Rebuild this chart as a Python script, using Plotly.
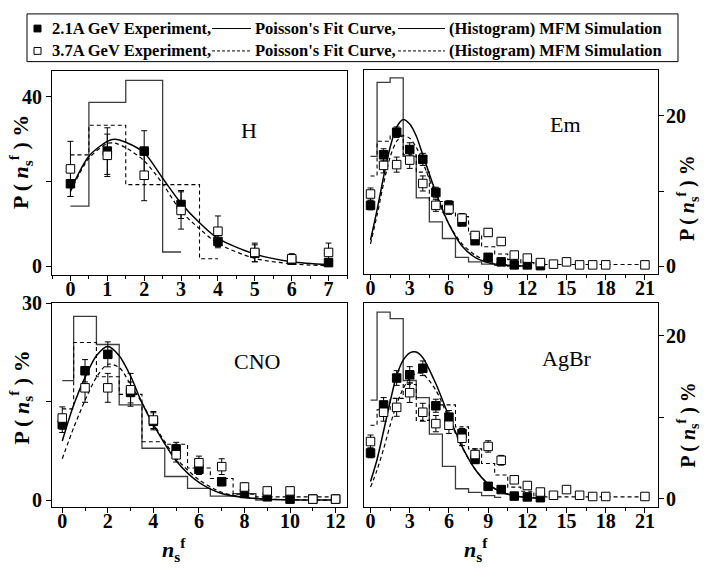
import plotly.graph_objects as go

W, H = 707, 573
FONT = "Liberation Serif"

# ---------------- DATA ----------------
# H panel
H_x = [0, 1, 2, 3, 4, 5, 6, 7]
H_exp21 = [19.5, 27.2, 27.2, 14.6, 5.9, 3.1, 1.5, 0.9]
H_err21 = [3.0, 5.5, 4.8, 3.3, 1.5, 2.0, 1.0, 0.5]
H_exp37 = [23.0, 26.2, 21.5, 13.2, 8.3, 3.3, 1.8, 3.3]
H_err37 = [6.5, 5.0, 6.0, 4.4, 3.6, 2.2, 1.2, 2.2]
H_hist21_x = [0, 1, 2, 3]
H_hist21 = [14.2, 38.7, 43.9, 3.4]
H_hist37_x = [0, 1, 2, 3, 4]
H_hist37 = [26.3, 33.3, 19.3, 19.3, 1.8]
H_fit_x = [0, 0.5, 1, 1.2, 1.5, 2, 2.5, 3, 3.5, 4, 5, 6, 7]
H_fit21 = [18.0, 26.0, 29.5, 30.0, 29.3, 26.8, 20.8, 14.9, 10.3, 6.6, 2.9, 1.1, 0.4]
H_fit37 = [17.6, 25.5, 29.0, 29.1, 28.0, 24.9, 19.5, 13.0, 8.9, 5.4, 1.9, 0.6, 0.15]

# Em panel
Em_x21 = [0, 1, 2, 3, 4, 5, 6, 7, 8, 9, 10, 11, 12, 13]
Em_exp21 = [8.1, 14.8, 17.8, 15.5, 14.2, 9.8, 8.1, 5.9, 3.4, 1.2, 0.6, 0.2, 0.2, 0.1]
Em_err21 = [0.6, 0.8, 0.7, 0.9, 0.8, 0.7, 0.6, 0.5, 0.4, 0.3, 0.3, 0.2, 0.2, 0.1]
Em_x37 = [0, 1, 2, 3, 4, 5, 6, 7, 8, 9, 10, 11, 12, 13, 14, 15, 16, 17, 18, 21]
Em_exp37 = [9.6, 13.4, 13.5, 14.1, 11.0, 8.1, 7.6, 6.4, 4.1, 4.5, 3.3, 1.5, 1.1, 0.5, 0.3, 0.6, 0.2, 0.2, 0.2, 0.2]
Em_err37 = [0.8, 1.0, 1.0, 1.1, 1.0, 0.8, 0.7, 0.6, 0.5, 0.5, 0.5, 0.3, 0.3, 0.2, 0.2, 0.3, 0.2, 0.2, 0.2, 0.2]
Em_hist21_x = [0, 1, 2, 3, 4, 5, 6, 7, 8, 9, 10, 11]
Em_hist21 = [14.6, 24.4, 25.0, 14.6, 9.1, 5.9, 3.7, 1.2, 0.6, 0.3, 0.15, 0.05]
Em_hist37_x = [0, 1, 2, 3, 4, 5, 6, 7, 8, 9, 10, 11, 12, 13, 14, 15, 16, 17, 18, 19, 20, 21]
Em_hist37 = [12.0, 16.6, 17.4, 14.8, 12.5, 8.6, 7.2, 6.6, 4.3, 2.6, 1.65, 0.9, 0.5,
             0.25, 0.25, 0.25, 0.25, 0.25, 0.25, 0.25, 0.25, 0.25]
Em_fit_x = [0, 0.5, 1, 1.5, 2, 2.5, 3, 3.5, 4, 5, 6, 7, 8, 9, 10, 11, 12]
Em_fit21 = [3.5, 7.5, 11.9, 15.8, 18.5, 19.5, 18.9, 17.3, 14.8, 9.8, 5.6, 2.7, 1.2, 0.5, 0.2, 0.1, 0.05]
Em_fit37 = [3.0, 6.8, 11.0, 14.5, 16.6, 17.3, 17.0, 15.8, 13.8, 9.4, 5.6, 3.0, 1.5, 0.7, 0.3, 0.1, 0.05]

# CNO panel
C_x = [0, 1, 2, 3, 4, 5, 6, 7, 8, 9, 10, 11, 12]
C_exp21 = [11.5, 19.7, 22.2, 16.4, 12.0, 7.8, 4.7, 2.8, 1.0, 0.5, 0.15, 0.15, 0.15]
C_err21 = [1.2, 1.7, 1.9, 1.6, 1.3, 1.0, 0.8, 0.6, 0.4, 0.3, 0.2, 0.2, 0.2]
C_exp37 = [12.5, 17.1, 17.1, 16.8, 12.2, 6.9, 5.7, 5.1, 2.0, 1.4, 1.4, 0.15, 0.15]
C_err37 = [1.7, 2.2, 2.2, 2.5, 1.3, 1.1, 1.0, 1.2, 0.6, 0.5, 0.5, 0.2, 0.2]
C_hist21_x = [0, 1, 2, 3, 4, 5, 6, 7, 8, 9]
C_hist21 = [18.2, 28.0, 23.7, 14.5, 7.9, 3.6, 1.8, 0.6, 1.0, 0.0]
C_hist37_x = [0, 1, 2, 3, 4, 5, 6, 7, 8, 9, 10, 11, 12]
C_hist37 = [13.9, 24.0, 18.8, 16.1, 8.9, 8.5, 4.9, 3.3, 0.9, 0.5, 0.5, 0.5, 0.5]
C_fit_x = [0, 0.5, 1, 1.5, 2, 2.5, 3, 3.5, 4, 5, 6, 7, 8, 9, 10, 11, 12]
C_fit21 = [9.0, 14.5, 18.7, 22.0, 23.4, 22.0, 18.9, 14.8, 11.5, 6.0, 2.7, 1.0, 0.4, 0.15, 0.05, 0.02, 0.0]
C_fit37 = [6.3, 11.0, 15.2, 18.7, 20.7, 20.2, 17.6, 14.8, 11.7, 6.4, 3.1, 1.2, 0.4, 0.15, 0.05, 0.02, 0.0]

# AgBr panel
A_x21 = [0, 1, 2, 3, 4, 5, 6, 7, 8, 9, 10, 11, 12, 13]
A_exp21 = [5.6, 11.5, 14.8, 15.2, 16.0, 11.4, 10.0, 8.0, 4.8, 1.5, 1.1, 0.3, 0.2, 0.1]
A_err21 = [0.6, 0.9, 0.9, 1.0, 0.9, 0.8, 0.8, 0.6, 0.5, 0.3, 0.3, 0.2, 0.1, 0.1]
A_x37 = [0, 1, 2, 3, 4, 5, 6, 7, 8, 9, 10, 11, 12, 13, 14, 15, 16, 17, 18, 21]
A_exp37 = [7.0, 10.6, 11.2, 13.0, 10.6, 9.2, 9.0, 7.4, 5.4, 6.4, 4.7, 2.3, 1.6, 0.8, 0.4, 1.1, 0.4, 0.25, 0.25, 0.25]
A_err37 = [0.8, 1.1, 1.1, 1.2, 1.1, 1.0, 1.0, 0.9, 0.7, 0.7, 0.6, 0.4, 0.3, 0.3, 0.2, 0.3, 0.2, 0.2, 0.2, 0.2]
A_hist21_x = [0, 1, 2, 3, 4, 5, 6, 7, 8, 9, 10]
A_hist21 = [12.1, 22.9, 22.1, 14.5, 12.4, 7.9, 3.95, 1.2, 0.75, 0.35, 0.15]
A_hist37_x = [0, 1, 2, 3, 4, 5, 6, 7, 8, 9, 10, 11, 12, 13, 14, 15, 16, 17, 18, 19, 20, 21]
A_hist37 = [9.0, 10.9, 12.3, 14.0, 9.6, 11.5, 11.5, 8.8, 6.1, 4.3, 2.9, 1.4, 0.9,
            0.2, 0.2, 0.2, 0.2, 0.2, 0.2, 0.2, 0.2, 0.2]
A_fit_x = [0, 0.5, 1, 1.5, 2, 2.5, 3, 3.5, 4, 5, 6, 7, 8, 9, 10, 11, 12, 13]
A_fit21 = [2.1, 4.8, 8.3, 11.9, 15.1, 17.0, 17.9, 18.0, 17.3, 14.1, 10.1, 6.4, 3.6, 1.8, 0.8, 0.35, 0.12, 0.05]
A_fit37 = [1.4, 3.5, 6.1, 9.0, 11.6, 13.5, 14.8, 15.4, 15.3, 13.3, 9.8, 6.3, 3.6, 1.8, 0.8, 0.35, 0.12, 0.05]

panel_names = ["H", "Em", "CNO", "AgBr"]

# ---------------- LAYOUT HELPERS ----------------
def px_x(p):
    return p / W

def px_y(p):
    return 1 - p / H

panels = [
    dict(name=panel_names[0], xa="x", ya="y", box=(52, 347, 62, 271),
         xr=[-0.5, 7.5], yr=[-2, 46], xdt=1, xminor=0.5, ytv=[0, 20, 40], ytt=["0", " ", "40"], side="left",
         hx=H_hist21_x, h21=H_hist21, hx37=H_hist37_x, h37=H_hist37,
         fx=H_fit_x, f21=H_fit21, f37=H_fit37,
         ex21=H_x, e21=H_exp21, er21=H_err21, ex37=H_x, e37=H_exp37, er37=H_err37,
         lab=(249, 123)),
    dict(name=panel_names[1], xa="x2", ya="y2", box=(364, 658, 61, 270),
         xr=[-0.5, 22], yr=[-1, 26], xdt=3, xminor=1.5, ytv=[0, 10, 20], ytt=["0", " ", "20"], side="right",
         hx=Em_hist21_x, h21=Em_hist21, hx37=Em_hist37_x, h37=Em_hist37,
         fx=Em_fit_x, f21=Em_fit21, f37=Em_fit37,
         ex21=Em_x21, e21=Em_exp21, er21=Em_err21, ex37=Em_x37, e37=Em_exp37, er37=Em_err37,
         lab=(565, 117)),
    dict(name=panel_names[2], xa="x3", ya="y3", box=(52, 347, 300, 509),
         xr=[-0.45, 12.5], yr=[-1, 30], xdt=2, xminor=1, ytv=[0, 15, 30], ytt=["0", " ", "30"], side="left",
         hx=C_hist21_x, h21=C_hist21, hx37=C_hist37_x, h37=C_hist37,
         fx=C_fit_x, f21=C_fit21, f37=C_fit37,
         ex21=C_x, e21=C_exp21, er21=C_err21, ex37=C_x, e37=C_exp37, er37=C_err37,
         lab=(257, 360)),
    dict(name=panel_names[3], xa="x4", ya="y4", box=(364, 658, 300, 509),
         xr=[-0.5, 22], yr=[-1, 24], xdt=3, xminor=1.5, ytv=[0, 10, 20], ytt=["0", " ", "20"], side="right",
         hx=A_hist21_x, h21=A_hist21, hx37=A_hist37_x, h37=A_hist37,
         fx=A_fit_x, f21=A_fit21, f37=A_fit37,
         ex21=A_x21, e21=A_exp21, er21=A_err21, ex37=A_x37, e37=A_exp37, er37=A_err37,
         lab=(567, 357)),
]

fig = go.Figure()
layout = dict(width=W, height=H, margin=dict(l=0, r=0, t=0, b=0),
              paper_bgcolor="white", plot_bgcolor="white", showlegend=False,
              font=dict(family=FONT, color="black"))
annotations = []
shapes = []

HIST_COL = "#3c3c3c"
DASH = "4px,3px"

for i, p in enumerate(panels):
    xa, ya = p["xa"], p["ya"]
    fig.add_trace(go.Scatter(x=p["hx"], y=p["h21"], xaxis=xa, yaxis=ya, mode="lines",
                             line=dict(shape="hvh", color=HIST_COL, width=1.3)))
    fig.add_trace(go.Scatter(x=p["hx37"], y=p["h37"], xaxis=xa, yaxis=ya, mode="lines",
                             line=dict(shape="hvh", color="black", width=1.1, dash=DASH)))
    fig.add_trace(go.Scatter(x=p["fx"], y=p["f21"], xaxis=xa, yaxis=ya, mode="lines",
                             line=dict(shape="spline", smoothing=0.8, color="black", width=1.5)))
    fig.add_trace(go.Scatter(x=p["fx"], y=p["f37"], xaxis=xa, yaxis=ya, mode="lines",
                             line=dict(shape="spline", smoothing=0.8, color="black", width=1.2, dash=DASH)))
    fig.add_trace(go.Scatter(x=p["ex21"], y=p["e21"], xaxis=xa, yaxis=ya, mode="markers",
                             marker=dict(symbol="square", size=8.5, color="black",
                                         line=dict(color="black", width=1)),
                             error_y=dict(type="data", array=p["er21"], color="black",
                                          thickness=1, width=3)))
    fig.add_trace(go.Scatter(x=p["ex37"], y=p["e37"], xaxis=xa, yaxis=ya, mode="markers",
                             marker=dict(symbol="square", size=8.5, color="white",
                                         line=dict(color="black", width=1)),
                             error_y=dict(type="data", array=p["er37"], color="black",
                                          thickness=1, width=3)))

    x0, x1, y0, y1 = p["box"]
    suffix = "" if i == 0 else str(i + 1)
    layout["xaxis" + suffix] = dict(
        domain=[px_x(x0), px_x(x1)], range=p["xr"], anchor=ya,
        showline=True, linecolor="black", linewidth=1.2, mirror=True,
        ticks="outside", ticklen=5, tickwidth=1, tickcolor="black",
        dtick=p["xdt"], tick0=0, showgrid=False, zeroline=False,
        ticklabelstandoff=-9,
        tickfont=dict(family=FONT, size=20, weight="bold", color="black"),
        minor=dict(ticks="outside", ticklen=3, tickwidth=1, tickcolor="black",
                   dtick=p["xminor"], tick0=0, showgrid=False),
    )
    layout["yaxis" + suffix] = dict(
        domain=[px_y(y1), px_y(y0)], range=p["yr"], anchor=xa, side=p["side"],
        showline=True, linecolor="black", linewidth=1.2, mirror=True,
        ticks="outside", ticklen=5, tickwidth=1, tickcolor="black",
        tickvals=p["ytv"], ticktext=p["ytt"], showgrid=False, zeroline=False,
        ticklabelstandoff=-2 if p["side"] == "right" else 0,
        tickfont=dict(family=FONT, size=20, weight="bold", color="black"),
    )
    annotations.append(dict(text=p["name"], x=px_x(p["lab"][0]), y=px_y(p["lab"][1]),
                            xref="paper", yref="paper", showarrow=False,
                            xanchor="center", yanchor="middle",
                            font=dict(family=FONT, size=22, color="black")))

# y-axis titles
ytitle = "P ( <i>n</i><sub>s</sub><sup>f</sup> ) %"
for (xp, yp, sz) in [(21, 155, 22), (21, 397, 22), (688, 192, 20), (688, 425, 20)]:
    annotations.append(dict(text=ytitle, x=px_x(xp), y=px_y(yp), xref="paper", yref="paper",
                            showarrow=False, textangle=-90, xanchor="center", yanchor="middle",
                            font=dict(family=FONT, size=sz, weight="bold", color="black")))
# x-axis titles
xtitle = "<i>n</i><sub>s</sub><sup>f</sup>"
for (xp, yp) in [(174, 553), (476, 553)]:
    annotations.append(dict(text=xtitle, x=px_x(xp), y=px_y(yp), xref="paper", yref="paper",
                            showarrow=False, xanchor="center", yanchor="middle",
                            font=dict(family=FONT, size=22, weight="bold", color="black")))

# ---------------- LEGEND (drawn) ----------------
shapes.append(dict(type="rect", xref="paper", yref="paper",
                   x0=px_x(27), x1=px_x(678), y0=px_y(52), y1=px_y(3),
                   line=dict(color="black", width=1), fillcolor="rgba(0,0,0,0)"))
LEG_FS = 16.5
rows = [(18, "2.1A GeV Experiment,", "black", "solid"),
        (41, "3.7A GeV Experiment,", "white", "dash")]
t1_x, l1 = 50, (212, 251)
t2_x, l2 = 253, (398, 445)
t3_x = 447
for (ry, lab, fill, dash) in rows:
    shapes.append(dict(type="rect", xref="paper", yref="paper",
                       x0=px_x(34), x1=px_x(41), y0=px_y(ry + 3.5), y1=px_y(ry - 3.5),
                       line=dict(color="black", width=1), fillcolor=fill))
    for (a, b) in [l1, l2]:
        shapes.append(dict(type="line", xref="paper", yref="paper",
                           x0=px_x(a), x1=px_x(b), y0=px_y(ry), y1=px_y(ry),
                           line=dict(color="black", width=1, dash="solid" if dash == "solid" else "3px,2px")))
    for (tx, txt) in [(t1_x, lab), (t2_x, "Poisson's Fit Curve,"), (t3_x, "(Histogram) MFM Simulation")]:
        annotations.append(dict(text=txt, x=px_x(tx), y=px_y(ry), xref="paper", yref="paper",
                                xanchor="left", yanchor="middle", showarrow=False,
                                font=dict(family=FONT, size=LEG_FS, weight="bold", color="black")))

layout["annotations"] = annotations
layout["shapes"] = shapes
fig.update_layout(**layout)
fig.write_html("out.html")
